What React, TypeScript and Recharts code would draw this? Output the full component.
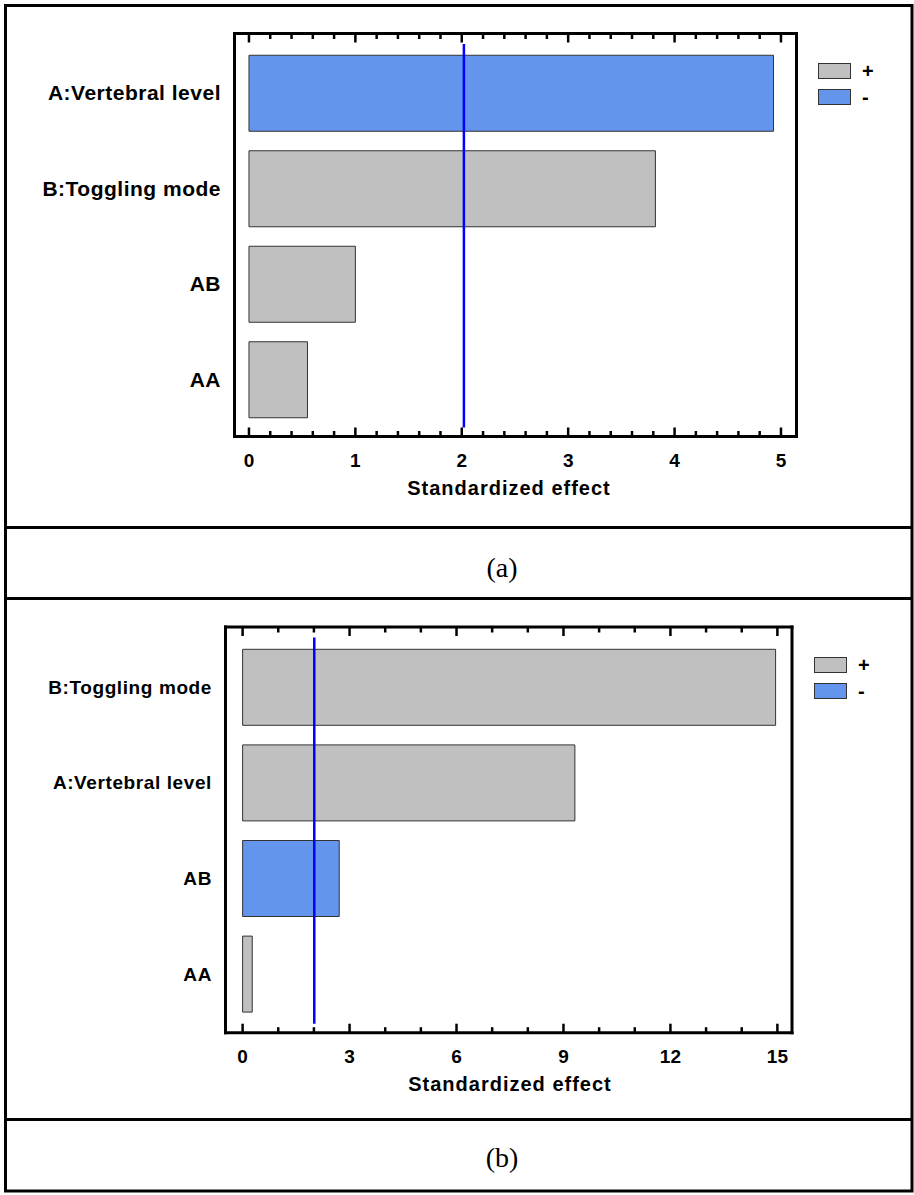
import React from 'react';
import { BarChart, Bar, XAxis, YAxis, ReferenceLine, Legend } from 'recharts';

// panel (a)
const termsA = ['A:Vertebral level', 'B:Toggling mode', 'AB', 'AA'];
const effectsA = [4.93, 3.82, 1.0, 0.55];
const signsA = ['-', '+', '+', '+'];
const majorTicksA = [0, 1, 2, 3, 4, 5];
const minorStepA = 0.2;
const criticalA = 2.02;

// panel (b)
const termsB = ['B:Toggling mode', 'A:Vertebral level', 'AB', 'AA'];
const effectsB = [14.95, 9.32, 2.71, 0.27];
const signsB = ['+', '+', '-', '+'];
const majorTicksB = [0, 3, 6, 9, 12, 15];
const minorStepB = 1;
const criticalB = 2.01;

const axisTitle = 'Standardized effect';
const captions = ['(a)', '(b)'];

const GRAY = '#c0c0c0';
const BLUE = '#6495ed';
const FONT = '"Liberation Sans", Arial, sans-serif';
const W = 914;
const H = 520;

function buildRows(terms: string[], effects: number[], signs: string[]) {
  return terms.map((term, i) => ({
    term,
    plus: signs[i] === '+' ? effects[i] : null,
    minus: signs[i] === '-' ? effects[i] : null,
  }));
}

function buildTicks(major: number[], step: number) {
  const out: number[] = [];
  const last = major[major.length - 1];
  for (let i = 0; major[0] + i * step <= last + 1e-9; i++) {
    out.push(+(major[0] + i * step).toFixed(4));
  }
  return out;
}

const LegendBox = (props: any) => {
  const payload = props.payload || [];
  return (
    <div>
      {payload.map((p: any) => (
        <div key={p.value} style={{ display: 'flex', alignItems: 'center', height: 26 }}>
          <span
            style={{
              display: 'inline-block',
              width: 33,
              height: 16,
              boxSizing: 'border-box',
              border: '1px solid #333',
              background: p.color,
            }}
          />
          <span style={{ marginLeft: 11, fontFamily: FONT, fontWeight: 700, fontSize: 20, lineHeight: '16px' }}>
            {p.value}
          </span>
        </div>
      ))}
    </div>
  );
};

interface PanelProps {
  rows: any[];
  majorTicks: number[];
  minorStep: number;
  critical: number;
  domain: [number, number];
  plot: { top: number; bottom: number; left: number; right: number };
  bandPad: { top: number; bottom: number };
  labelRight: number;
  labelSize: number;
  labelSpacing: number;
  legendAt: { left: number; top: number };
  titleX: number;
}

const Panel = (p: PanelProps) => {
  const { plot } = p;
  const allTicks = buildTicks(p.majorTicks, p.minorStep);
  const majorStep = p.majorTicks[1] - p.majorTicks[0];
  const isMajor = (v: number) => Math.abs(v / majorStep - Math.round(v / majorStep)) < 1e-6;
  const frame = { stroke: '#000', strokeWidth: 3, strokeLinecap: 'square' as const };

  const bottomTick = (t: any) => {
    const v = t.payload.value;
    const major = isMajor(v);
    return (
      <g>
        <line x1={t.x} x2={t.x} y1={plot.bottom} y2={plot.bottom - (major ? 9 : 5.5)} stroke="#000" strokeWidth={2.5} />
        {major && (
          <text x={t.x} y={plot.bottom + 30} textAnchor="middle" fontFamily={FONT} fontWeight={700} fontSize={19} fill="#000">
            {v}
          </text>
        )}
      </g>
    );
  };

  const topTick = (t: any) => {
    const major = isMajor(t.payload.value);
    return <line x1={t.x} x2={t.x} y1={plot.top} y2={plot.top + (major ? 9 : 5.5)} stroke="#000" strokeWidth={2.5} />;
  };

  const yTick = (t: any) => (
    <text
      x={p.labelRight}
      y={t.y}
      dy={p.labelSize * 0.35}
      textAnchor="end"
      fontFamily={FONT}
      fontWeight={700}
      fontSize={p.labelSize}
      style={{ letterSpacing: p.labelSpacing }}
      fill="#000"
    >
      {t.payload.value}
    </text>
  );

  // top x axis and right y axis are 1px wide so they get drawn
  return (
    <BarChart
      width={W}
      height={H}
      data={p.rows}
      layout="vertical"
      margin={{ top: plot.top - 1, right: W - plot.right - 1, bottom: 0, left: 0 }}
    >
      <XAxis
        type="number"
        domain={p.domain}
        allowDataOverflow
        ticks={allTicks}
        interval={0}
        height={H - plot.bottom}
        tickLine={false}
        axisLine={frame}
        tick={bottomTick}
        label={{
          value: axisTitle,
          content: () => (
            <text x={p.titleX} y={plot.bottom + 58} textAnchor="middle" fontFamily={FONT} fontWeight={700} fontSize={20} style={{ letterSpacing: 1 }} fill="#000">
              {axisTitle}
            </text>
          ),
        }}
      />
      <XAxis
        xAxisId="top"
        orientation="top"
        type="number"
        domain={p.domain}
        allowDataOverflow
        ticks={allTicks}
        interval={0}
        height={1}
        tickLine={false}
        axisLine={frame}
        tick={topTick}
      />
      <YAxis
        type="category"
        dataKey="term"
        width={plot.left}
        padding={p.bandPad}
        interval={0}
        tickLine={false}
        axisLine={frame}
        tick={yTick}
      />
      <YAxis
        yAxisId="right"
        orientation="right"
        type="category"
        dataKey="term"
        width={1}
        tick={false}
        tickLine={false}
        axisLine={frame}
      />
      <Legend
        layout="vertical"
        align="center"
        verticalAlign="middle"
        content={LegendBox}
        wrapperStyle={{ left: p.legendAt.left, top: p.legendAt.top, width: 60, height: 52 }}
      />
      <Bar dataKey="plus" name="+" stackId="s" fill={GRAY} stroke="#333" strokeWidth={1} barSize={76} isAnimationActive={false} />
      <Bar dataKey="minus" name="-" stackId="s" fill={BLUE} stroke="#333" strokeWidth={1} barSize={76} isAnimationActive={false} />
      <ReferenceLine
        x={p.critical}
        shape={(l: any) => (
          <line
            x1={l.x1}
            x2={l.x2}
            y1={Math.min(l.y1, l.y2) + 10.5}
            y2={Math.max(l.y1, l.y2) - 9}
            stroke="#0000ff"
            strokeWidth={2.5}
          />
        )}
      />
    </BarChart>
  );
};

const App = () => {
  const rowsA = buildRows(termsA, effectsA, signsA);
  const rowsB = buildRows(termsB, effectsB, signsB);
  return (
    <div style={{ position: 'absolute', left: 0, top: 0, width: 914, height: 1195, background: '#fff' }}>
      <svg width={914} height={1195} style={{ position: 'absolute', left: 0, top: 0 }}>
        <rect x={5.5} y={5.5} width={906.5} height={1185.5} fill="none" stroke="#000" strokeWidth={3} />
        <line x1={5.5} x2={912} y1={527.5} y2={527.5} stroke="#000" strokeWidth={3} />
        <line x1={5.5} x2={912} y1={598.5} y2={598.5} stroke="#000" strokeWidth={3} />
        <line x1={5.5} x2={912} y1={1119.5} y2={1119.5} stroke="#000" strokeWidth={3} />
        <text x={502} y={577} textAnchor="middle" fontFamily='"Liberation Serif", "Times New Roman", serif' fontSize={28}>
          {captions[0]}
        </text>
        <text x={502} y={1167} textAnchor="middle" fontFamily='"Liberation Serif", "Times New Roman", serif' fontSize={28}>
          {captions[1]}
        </text>
      </svg>
      <div style={{ position: 'absolute', left: 0, top: 0 }}>
        <Panel
          rows={rowsA}
          majorTicks={majorTicksA}
          minorStep={minorStepA}
          critical={criticalA}
          domain={[-0.136, 5.146]}
          plot={{ top: 33.5, bottom: 436.5, left: 234.5, right: 796.5 }}
          bandPad={{ top: 11.75, bottom: 9.25 }}
          labelRight={221}
          labelSize={21}
          labelSpacing={0.5}
          legendAt={{ left: 818, top: 58 }}
          titleX={509}
        />
      </div>
      <div style={{ position: 'absolute', left: 0, top: 594 }}>
        <Panel
          rows={rowsB}
          majorTicks={majorTicksB}
          minorStep={minorStepB}
          critical={criticalB}
          domain={[-0.48, 15.41]}
          plot={{ top: 33, bottom: 438.7, left: 225.5, right: 792 }}
          bandPad={{ top: 12.3, bottom: 11 }}
          labelRight={212}
          labelSize={19}
          labelSpacing={0.6}
          legendAt={{ left: 814, top: 58 }}
          titleX={510}
        />
      </div>
    </div>
  );
};

export default App;
